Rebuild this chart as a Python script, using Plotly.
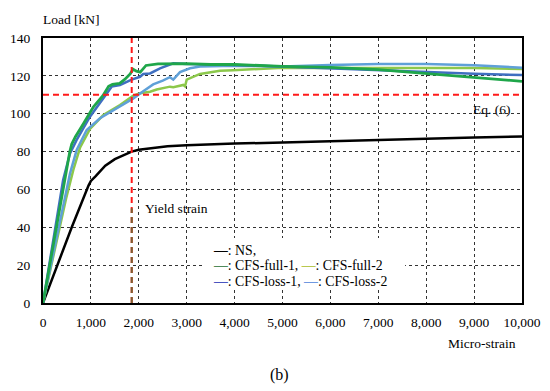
import plotly.graph_objects as go

# ---------------- data ----------------
ns_x = [0, 600, 950, 1000, 1100, 1300, 1500, 1700, 1850, 2000, 2300, 2600, 3000, 3500, 4000, 5000, 6000, 7000, 8000, 9000, 10000]
ns_y = [0, 40, 62, 64.5, 67, 72.5, 76, 78.5, 80, 81, 82, 82.8, 83.3, 83.8, 84.2, 84.8, 85.5, 86.3, 87, 87.5, 88]

full1_x = [0, 450, 560, 600, 680, 850, 1050, 1250, 1370, 1450, 1600, 1700, 1820, 1880, 1950, 2030, 2150, 2400, 3000, 3500, 4000, 5000, 6000, 7000, 8000, 9000, 10000]
full1_y = [0, 65, 80, 84, 88, 95, 103.5, 109.5, 114.5, 115.5, 116, 118, 121, 123.5, 122.5, 122, 125.5, 126.3, 126.5, 126, 126, 125, 124.5, 123.3, 121.2, 119.2, 117.1]

full2_x = [0, 480, 633, 772, 981, 1259, 1607, 1816, 1886, 2025, 2234, 2373, 2651, 2720, 2930, 2965, 3000, 3278, 3556, 3695, 3973, 4322, 5010, 6000, 7000, 8000, 9000, 10000]
full2_y = [0, 55, 70.3, 82, 92, 99.3, 104.6, 108.5, 109.5, 110.8, 111.6, 112.8, 114.3, 114, 115.2, 114.5, 118, 121, 122.2, 122.7, 123, 123.4, 124.3, 124.2, 124.2, 124.3, 124.2, 123.6]

loss1_x = [0, 420, 564, 700, 981, 1259, 1433, 1607, 1851, 2025, 2094, 2234, 2373, 2443, 2720, 3000, 4000, 5000, 6000, 7000, 8000, 9000, 10000]
loss1_y = [0, 65, 79, 86, 98.4, 108, 114.3, 115.2, 118, 119.5, 121, 121.3, 123, 124, 126.6, 126.2, 125.8, 124.8, 124, 123, 121.9, 121.1, 120.4]

loss2_x = [0, 530, 564, 703, 912, 1190, 1538, 1886, 2100, 2300, 2500, 2650, 2720, 2860, 3070, 3278, 4000, 5000, 6000, 7000, 8000, 9000, 10000]
loss2_y = [0, 65, 68.5, 80.8, 91.4, 97.6, 102.9, 108.1, 112, 115.5, 117.5, 119.3, 118, 122, 124, 124.9, 125.3, 125, 125.7, 126.3, 126.2, 125.6, 124.3]

yield_strain = 1852
eq6_load = 110

x_ticks = [0, 1000, 2000, 3000, 4000, 5000, 6000, 7000, 8000, 9000, 10000]
y_ticks = [0, 20, 40, 60, 80, 100, 120, 140]

FONT = "Liberation Serif"

fig = go.Figure()

series = [
    ("NS", ns_x, ns_y, "#000000", 2.5),
    ("CFS-full-2", full2_x, full2_y, "#8cc84b", 2.5),
    ("CFS-loss-2", loss2_x, loss2_y, "#5fa0d8", 2.5),
    ("CFS-loss-1", loss1_x, loss1_y, "#3f6fc0", 2.5),
    ("CFS-full-1", full1_x, full1_y, "#1fa64a", 2.8),
]
for name, xs, ys, col, w in series:
    fig.add_trace(go.Scatter(x=xs, y=ys, mode="lines", name=name,
                             line=dict(color=col, width=w), showlegend=False))

# reference lines
fig.add_trace(go.Scatter(x=[0, 10000], y=[eq6_load, eq6_load], mode="lines",
                         line=dict(color="#ff1a1a", width=2, dash="6px,4px"), showlegend=False))
fig.add_trace(go.Scatter(x=[yield_strain, yield_strain], y=[0, 140], mode="lines",
                         line=dict(color="#ff1a1a", width=2, dash="6px,4px"), showlegend=False))
fig.add_trace(go.Scatter(x=[yield_strain, yield_strain], y=[0, 50], mode="lines",
                         line=dict(color="#7a6030", width=2, dash="6px,4px"), showlegend=False))

# legend box
fig.add_shape(type="rect", xref="paper", yref="paper", x0=0.338, x1=0.756, y0=0.049, y1=0.245,
              fillcolor="white", line=dict(width=0), layer="above")

def sw(c):
    return f"<b><span style='color:{c}'>—</span></b>"

legend_rows = [
    (0.200, f"{sw('#000000')}: NS,"),
    (0.143, f"{sw('#4f8a5a')}: CFS-full-1, {sw('#b8c850')}: CFS-full-2"),
    (0.080, f"{sw('#4a55c0')}: CFS-loss-1, {sw('#6f98e0')}: CFS-loss-2"),
]
for yy, txt in legend_rows:
    fig.add_annotation(xref="paper", yref="paper", x=0.350, y=yy, text=txt, showarrow=False,
                       xanchor="left", yanchor="middle", font=dict(family=FONT, size=13.8, color="black"))

fig.add_annotation(x=2094, y=50, text="Yield strain", showarrow=False, xanchor="left", yanchor="middle",
                   font=dict(family=FONT, size=13.5, color="black"))
fig.add_annotation(x=9818, y=102, text="Eq. (6)", showarrow=False, xanchor="right", yanchor="middle",
                   font=dict(family=FONT, size=13.5, color="black"))
fig.add_annotation(xref="paper", yref="paper", x=-0.005, y=1.068, text="Load [kN]", showarrow=False,
                   xanchor="left", yanchor="middle", font=dict(family=FONT, size=13.5, color="black"))
fig.add_annotation(xref="paper", yref="paper", x=0.992, y=-0.151, text="Micro-strain", showarrow=False,
                   xanchor="right", yanchor="middle", font=dict(family=FONT, size=13.5, color="black"))
fig.add_annotation(xref="paper", yref="paper", x=0.493, y=-0.272, text="(b)", showarrow=False,
                   xanchor="center", yanchor="middle", font=dict(family=FONT, size=16, color="black"))

axis_common = dict(showline=True, linecolor="black", linewidth=2, mirror=True,
                   showgrid=True, gridcolor="#333333", gridwidth=1, griddash="dot",
                   zeroline=False, ticks="", automargin=False,
                   tickfont=dict(family=FONT, size=13.5, color="black"))

fig.update_xaxes(range=[0, 10000], tickvals=x_ticks, ticktext=[f"{v:,}" for v in x_ticks],
                 ticklabelstandoff=6, **axis_common)
fig.update_yaxes(range=[0, 140], tickvals=y_ticks, ticklabelstandoff=8, **axis_common)

fig.update_layout(width=550, height=391, margin=dict(l=43, r=28, t=38, b=88, autoexpand=False),
                  plot_bgcolor="white", paper_bgcolor="white", showlegend=False,
                  font=dict(family=FONT))

fig.write_html("out.html", config={"displayModeBar": False},
               post_script="document.body.style.margin='0';document.body.style.padding='0';")
